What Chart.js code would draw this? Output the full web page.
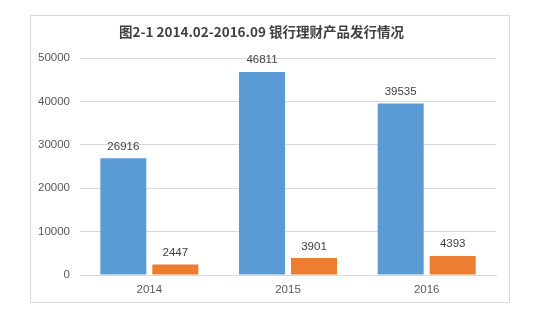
<!DOCTYPE html>
<html lang="zh">
<head>
<meta charset="UTF-8">
<title>银行理财产品发行情况</title>
<script src="https://cdn.jsdelivr.net/npm/chart.js@4.4.0/dist/chart.umd.min.js"></script>
<style>
  html, body { margin: 0; padding: 0; background: #fff; }
  #wrap { position: relative; width: 542px; height: 324px; }
</style>
</head>
<body>
<div id="wrap"><canvas id="bank-chart" width="542" height="324"></canvas></div>
<script>
// data
var years = ["2014", "2015", "2016"];
var seriesA = [26916, 46811, 39535];
var seriesB = [2447, 3901, 4393];
var yTicks = [0, 10000, 20000, 30000, 40000, 50000];

var numFont = "'Liberation Sans', Arial, sans-serif";

// frame around the whole chart + value labels above the bars
var decor = {
    id: "decor",
    beforeDraw: function(chart) {
        var ctx = chart.ctx;
        ctx.save();
        ctx.fillStyle = "#fff";
        ctx.fillRect(0, 0, chart.width, chart.height);
        ctx.strokeStyle = "#d9d9d9";
        ctx.lineWidth = 1;
        ctx.strokeRect(30.5, 15.5, 479, 287);
        ctx.restore();
    },
    afterDatasetsDraw: function(chart) {
        var ctx = chart.ctx;
        ctx.save();
        ctx.font = "11.5px " + numFont;
        ctx.fillStyle = "#404040";
        ctx.textAlign = "center";
        ctx.textBaseline = "bottom";
        chart.data.datasets.forEach(function(ds, i) {
            var meta = chart.getDatasetMeta(i);
            meta.data.forEach(function(bar, j) {
                ctx.fillText(String(ds.data[j]), bar.x, bar.y - 6);
            });
        });
        ctx.restore();
    }
};

new Chart(document.getElementById("bank-chart"), {
    type: "bar",
    data: {
        labels: years,
        datasets: [
            { data: seriesA, backgroundColor: "#5b9bd5" },
            { data: seriesB, backgroundColor: "#ed7d31" }
        ]
    },
    options: {
        responsive: false,
        animation: false,
        categoryPercentage: 0.75,
        barPercentage: 0.885,
        layout: { padding: { top: 20, right: 46, bottom: 24, left: 27 } },
        plugins: {
            legend: { display: false },
            tooltip: { enabled: false },
            title: {
                display: true,
                text: "图2-1 2014.02-2016.09 银行理财产品发行情况",
                color: "#404040",
                font: { family: "'Noto Sans CJK SC', sans-serif", size: 13.5, weight: "bold" },
                padding: { top: 4, bottom: 18 }
            }
        },
        scales: {
            x: {
                grid: { display: false, drawTicks: false },
                border: { display: true, color: "#d9d9d9" },
                ticks: { color: "#595959", padding: 8, font: { family: numFont, size: 11.5 } },
                afterFit: function(s) { s.height = 25; }
            },
            y: {
                min: 0,
                max: 50000,
                afterBuildTicks: function(s) {
                    s.ticks = yTicks.map(function(v) { return { value: v }; });
                },
                grid: { color: "#d9d9d9", drawTicks: false },
                border: { display: false },
                ticks: {
                    color: "#595959",
                    padding: 10,
                    font: { family: numFont, size: 11.5 },
                    callback: function(v) { return String(v); }
                },
                afterFit: function(s) { s.width = 53; }
            }
        }
    },
    plugins: [decor]
});
</script>
</body>
</html>
